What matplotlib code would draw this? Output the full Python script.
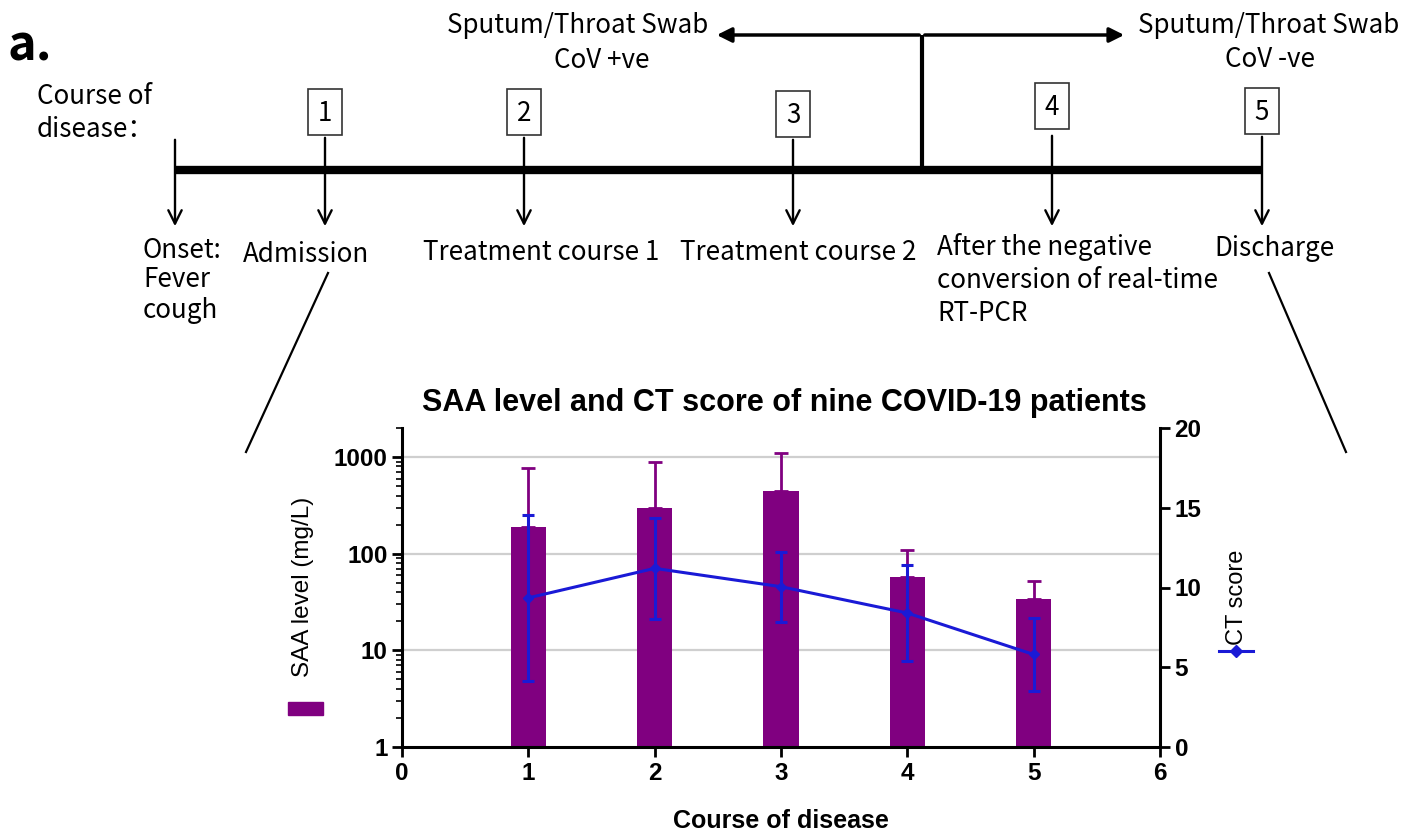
import numpy as np
import matplotlib
matplotlib.use("Agg")
import matplotlib.pyplot as plt
from matplotlib.patches import Rectangle

# ---------------------------------------------------------------------------
# data
course = [1, 2, 3, 4, 5]
saa_mean = [188, 296, 445, 58, 34]          # mg/L (bar height)
saa_upper = [770, 890, 1100, 108, 52]       # top of error bar
ct_mean = [9.35, 11.2, 10.05, 8.4, 5.8]
ct_sd = [5.2, 3.15, 2.2, 3.0, 2.3]

xticks = [0, 1, 2, 3, 4, 5, 6]
yticks_saa = [1, 10, 100, 1000]
yticks_ct = [0, 5, 10, 15, 20]

stage_nums = ["1", "2", "3", "4", "5"]
stage_text = [["Admission"], ["Treatment course 1"], ["Treatment course 2"],
              ["After the negative", "conversion of real-time", "RT-PCR"],
              ["Discharge"]]

PURPLE = "#800080"
BLUE = "#1a1ad6"
W, H = 1419, 834

fig = plt.figure(figsize=(W / 100, H / 100), dpi=100)

# ---------------------------------------------------------------------------
# overlay in pixel coordinates for the timeline diagram
ov = fig.add_axes([0, 0, 1, 1])
ov.set_xlim(0, W)
ov.set_ylim(H, 0)
ov.axis("off")

tf = ["Noto Sans CJK SC", "DejaVu Sans"]
fs = 18.7
fw = 500

ov.text(7, 60, "a.", fontsize=35, fontweight="bold", family=tf, va="baseline")
ov.text(37, 104, "Course of", fontsize=fs, fontweight=fw, family=tf, va="baseline")
ov.text(37, 137, "disease：", fontsize=fs, fontweight=fw, family=tf, va="baseline")

# main time line
ov.plot([175, 1262], [170, 170], color="k", lw=6, solid_capstyle="butt")

# onset arrow
ov.annotate("", xy=(175, 229), xytext=(175, 137),
            arrowprops=dict(arrowstyle="->", lw=1.7, color="k", mutation_scale=24))
onset = ["Onset:", "Fever", "cough"]
for k, yb in enumerate([258, 287, 318]):
    ov.text(143, yb, onset[k], fontsize=fs, fontweight=fw, family=tf, va="baseline")

# numbered stages
sx = [325, 524, 793, 1052, 1262]
box_top = [89, 89, 91, 83, 88]
txt_x = [243, 423, 680, 937, 1214]
txt_y = [262, 260, 260, 255, 256]
line_step = 33
for i in range(5):
    bt = box_top[i]
    ov.add_patch(Rectangle((sx[i] - 17, bt), 34, 46, fill=False, ec="#333333", lw=1.2))
    ov.text(sx[i], bt + 24, stage_nums[i], fontsize=fs, fontweight=fw, family=tf,
            ha="center", va="center")
    y0 = bt + 46 + (4 if i == 3 else 0)
    ov.annotate("", xy=(sx[i], 229), xytext=(sx[i], y0),
                arrowprops=dict(arrowstyle="->", lw=1.7, color="k", mutation_scale=24))
    for k, line in enumerate(stage_text[i]):
        ov.text(txt_x[i], txt_y[i] + k * line_step, line, fontsize=fs, fontweight=fw,
                family=tf, va="baseline")

# swab result bracket
ov.plot([922, 922], [35, 170], color="k", lw=3, solid_capstyle="butt")
ov.annotate("", xy=(714, 35), xytext=(922, 35),
            arrowprops=dict(arrowstyle="-|>", lw=2.5, color="k", mutation_scale=22))
ov.annotate("", xy=(1127, 35), xytext=(922, 35),
            arrowprops=dict(arrowstyle="-|>", lw=2.5, color="k", mutation_scale=22))
ov.text(578, 33, "Sputum/Throat Swab", fontsize=fs, fontweight=fw, family=tf,
        ha="center", va="baseline")
ov.text(602, 68, "CoV +ve", fontsize=fs, fontweight=fw, family=tf, ha="center",
        va="baseline")
ov.text(1269, 33, "Sputum/Throat Swab", fontsize=fs, fontweight=fw, family=tf,
        ha="center", va="baseline")
ov.text(1270, 67, "CoV -ve", fontsize=fs, fontweight=fw, family=tf, ha="center",
        va="baseline")

# zoom lines down to the chart
ov.plot([328, 246], [273, 452], color="k", lw=1.6)
ov.plot([1269, 1346], [273, 452], color="k", lw=1.6)

# ---------------------------------------------------------------------------
# chart
cf = "Liberation Sans"
ax = fig.add_axes([402 / W, 1 - 747 / H, (1160 - 402) / W, (747 - 428) / H])
ax.set_facecolor("none")
ax.set_yscale("log")
ax.set_ylim(1, 2000)
ax.set_xlim(0, 6)

for g in yticks_saa[1:]:
    ax.axhline(g, color="#cfcfcf", lw=1.6, zorder=0)

ax.bar(course, saa_mean, width=0.28, color=PURPLE, zorder=2)
up = np.array(saa_upper) - np.array(saa_mean)
ax.errorbar(course, saa_mean, yerr=[np.zeros(5), up], fmt="none", ecolor=PURPLE,
            elinewidth=2, capsize=5, capthick=2, zorder=3)

ax.set_yticks(yticks_saa)
ax.set_yticklabels([str(v) for v in yticks_saa])
ax.set_xticks(xticks)
ax.set_xticklabels([str(v) for v in xticks])
ax.tick_params(axis="both", which="major", direction="out", length=7, width=2,
               labelsize=17.5)
ax.tick_params(axis="y", which="minor", direction="out", length=4, width=1.2)
for lab in ax.get_xticklabels() + ax.get_yticklabels():
    lab.set_fontweight("bold")
    lab.set_family(cf)
ax.spines["top"].set_visible(False)
ax.spines["right"].set_visible(False)
for s in ["left", "bottom"]:
    ax.spines[s].set_linewidth(2.2)

ax2 = ax.twinx()
ax2.set_ylim(0, 20)
ax2.errorbar(course, ct_mean, yerr=ct_sd, color=BLUE, lw=2.2, marker="D", ms=5,
             elinewidth=2.2, capsize=4.5, capthick=2.2, zorder=4)
ax2.set_yticks(yticks_ct)
ax2.tick_params(axis="y", direction="out", length=7, width=2, labelsize=17.5)
for lab in ax2.get_yticklabels():
    lab.set_fontweight("bold")
    lab.set_family(cf)
ax2.spines["top"].set_visible(False)
ax2.spines["left"].set_visible(False)
ax2.spines["bottom"].set_visible(False)
ax2.spines["right"].set_linewidth(2.2)

# titles / axis labels (placed in pixel space to follow the source layout)
ov.text(784, 403, "SAA level and CT score of nine COVID-19 patients", fontsize=22,
        fontweight="bold", family=cf, ha="center", va="center")
ov.text(781, 821, "Course of disease", fontsize=18, fontweight="bold", family=cf,
        ha="center", va="center")
ov.text(303, 587, "SAA level (mg/L)", fontsize=17.5, family=cf, rotation=90,
        ha="center", va="center")
ov.add_patch(Rectangle((288, 702), 35, 13, color=PURPLE))
ov.text(1237, 597, "CT score", fontsize=17, family=cf, rotation=90,
        ha="center", va="center")
ov.plot([1219, 1253], [651, 651], color=BLUE, lw=2.2)
ov.plot([1236], [651], marker="D", color=BLUE, ms=6)

fig.savefig("out.png", dpi=100)
